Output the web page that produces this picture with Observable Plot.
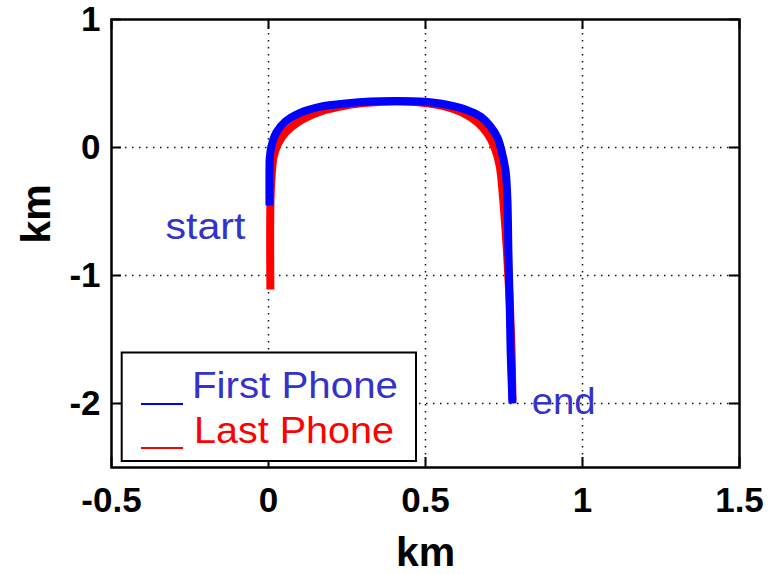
<!DOCTYPE html>
<html><head><meta charset="utf-8">
<script src="https://cdn.jsdelivr.net/npm/d3@7"></script>
<script src="https://cdn.jsdelivr.net/npm/@observablehq/plot@0.6"></script>
<style>
body{margin:0;background:#fff;}
#wrap{position:relative;width:778px;height:574px;font-family:"Liberation Sans",Arial,sans-serif;}
#legend{position:absolute;left:120px;top:351px;}
</style></head><body><div id="wrap"></div>
<script>
const xTicks = [-0.5, 0, 0.5, 1, 1.5];
const yTicks = [-2, -1, 0, 1];
const xDomain = [-0.5, 1.5];
const yDomain = [-2.5, 1];

const seriesNames = ["First Phone", "Last Phone"];
const seriesColors = ["#0000ff", "#ff0000"];
const legendTextColors = ["#3333cc", "#ff0000"];

const firstX = [0.003, 0.003, 0.004, 0.010, 0.025, 0.054, 0.102, 0.166, 0.245, 0.325, 0.404, 0.484, 0.564, 0.627, 0.675, 0.707, 0.729, 0.742, 0.755, 0.761, 0.764, 0.768, 0.771, 0.777];
const firstY = [-0.453, -0.180, -0.078, 0.016, 0.117, 0.203, 0.273, 0.320, 0.344, 0.359, 0.363, 0.359, 0.336, 0.297, 0.242, 0.164, 0.078, -0.023, -0.180, -0.414, -0.805, -1.195, -1.586, -2.000];

const lastX = [0.006, 0.006, 0.010, 0.016, 0.029, 0.054, 0.092, 0.166, 0.245, 0.325, 0.404, 0.484, 0.564, 0.618, 0.666, 0.697, 0.720, 0.736, 0.745, 0.755, 0.761, 0.768, 0.774, 0.777];
const lastY = [-1.109, -0.453, -0.219, -0.078, 0.023, 0.117, 0.195, 0.281, 0.328, 0.352, 0.359, 0.352, 0.320, 0.273, 0.195, 0.109, 0.000, -0.141, -0.336, -0.648, -0.883, -1.195, -1.586, -1.977];

const annotLabels = ["start", "end"];
const annotX = [-0.328, 0.838];
const annotY = [-0.621, -1.988];
const annotLengths = [80, 64];

const axisLabelX = "km";
const axisLabelY = "km";

const first = firstX.map((x, i) => ({x, y: firstY[i]}));
const last = lastX.map((x, i) => ({x, y: lastY[i]}));
const annots = annotLabels.map((t, i) => ({t, x: annotX[i], y: annotY[i]}));

const FONT = "Liberation Sans, Arial, sans-serif";
const gridX = xTicks.filter(d => d > xDomain[0] && d < xDomain[1]);
const gridY = yTicks.filter(d => d > yDomain[0] && d < yDomain[1]);

const chart = Plot.plot({
  width: 778, height: 574,
  marginLeft: 111, marginRight: 39, marginTop: 19, marginBottom: 107,
  style: {fontFamily: FONT, background: "#fff", color: "#000"},
  x: {domain: xDomain},
  y: {domain: yDomain},
  marks: [
    Plot.ruleX(gridX, {x: d => d, stroke: "#111", strokeWidth: 1.5, strokeDasharray: "1.5,5.5"}),
    Plot.ruleY(gridY, {y: d => d, stroke: "#111", strokeWidth: 1.5, strokeDasharray: "1.5,5.5"}),
    Plot.line(last, {x: "x", y: "y", stroke: seriesColors[1], strokeWidth: 8, curve: "catmull-rom", strokeLinecap: "butt", strokeLinejoin: "round"}),
    Plot.line(first, {x: "x", y: "y", stroke: seriesColors[0], strokeWidth: 8, curve: "catmull-rom", strokeLinecap: "butt", strokeLinejoin: "round"}),
    Plot.text(annots, {x: "x", y: "y", text: "t", textAnchor: "start", lineAnchor: "middle", fontSize: 37, fill: legendTextColors[0], fontFamily: FONT}),
    Plot.tickX(xTicks, {x: d => d, insetTop: 438, stroke: "#000", strokeWidth: 2}),
    Plot.tickX(xTicks, {x: d => d, insetBottom: 438, stroke: "#000", strokeWidth: 2}),
    Plot.tickY(yTicks, {y: d => d, insetRight: 618, stroke: "#000", strokeWidth: 2}),
    Plot.tickY(yTicks, {y: d => d, insetLeft: 618, stroke: "#000", strokeWidth: 2}),
    Plot.frame({stroke: "#000", strokeWidth: 2.5}),
    Plot.axisX({ticks: xTicks, tickSize: 0, tickPadding: 20, tickFormat: d => String(d), fontSize: 35, fontWeight: "bold", label: null, fill: "#000"}),
    Plot.axisY({ticks: yTicks, tickSize: 0, tickPadding: 11, tickFormat: d => String(d), fontSize: 35, fontWeight: "bold", label: null, fill: "#000"}),
    Plot.text([axisLabelX], {frameAnchor: "bottom", dy: 85, lineAnchor: "middle", text: d => d, fontSize: 41, fontWeight: "bold", fill: "#000"}),
    Plot.text([axisLabelY], {frameAnchor: "left", dx: -75, rotate: -90, lineAnchor: "middle", text: d => d, fontSize: 41, fontWeight: "bold", fill: "#000"})
  ]
});
// stretch annotation texts horizontally like the reference
d3.select(chart).selectAll("text").each(function() {
  const i = annotLabels.indexOf(this.textContent);
  if (i >= 0) {
    this.setAttribute("textLength", annotLengths[i]);
    this.setAttribute("lengthAdjust", "spacingAndGlyphs");
  }
});
const wrap = document.getElementById("wrap");
wrap.appendChild(chart);

// legend overlay
const legendLengths = [206, 200];
const legendTextX = [72, 74];
const ns = "http://www.w3.org/2000/svg";
const lg = document.createElementNS(ns, "svg");
lg.setAttribute("id", "legend");
lg.setAttribute("width", 298);
lg.setAttribute("height", 112);
const rect = document.createElementNS(ns, "rect");
rect.setAttribute("x", 1.7); rect.setAttribute("y", 1.5);
rect.setAttribute("width", 294.3); rect.setAttribute("height", 108.5);
rect.setAttribute("fill", "#fff"); rect.setAttribute("stroke", "#000"); rect.setAttribute("stroke-width", 2);
lg.appendChild(rect);
seriesNames.forEach((name, i) => {
  const ly = 53 + i * 44;
  const ln = document.createElementNS(ns, "line");
  ln.setAttribute("x1", 21); ln.setAttribute("x2", 63);
  ln.setAttribute("y1", ly); ln.setAttribute("y2", ly);
  ln.setAttribute("stroke", seriesColors[i]); ln.setAttribute("stroke-width", 2);
  lg.appendChild(ln);
  const tx = document.createElementNS(ns, "text");
  tx.setAttribute("x", legendTextX[i]); tx.setAttribute("y", 47 + i * 45);
  tx.setAttribute("fill", legendTextColors[i]);
  tx.setAttribute("font-size", 37);
  tx.setAttribute("font-family", FONT);
  tx.setAttribute("textLength", legendLengths[i]);
  tx.setAttribute("lengthAdjust", "spacingAndGlyphs");
  tx.textContent = name;
  lg.appendChild(tx);
});
wrap.appendChild(lg);
</script></body></html>
